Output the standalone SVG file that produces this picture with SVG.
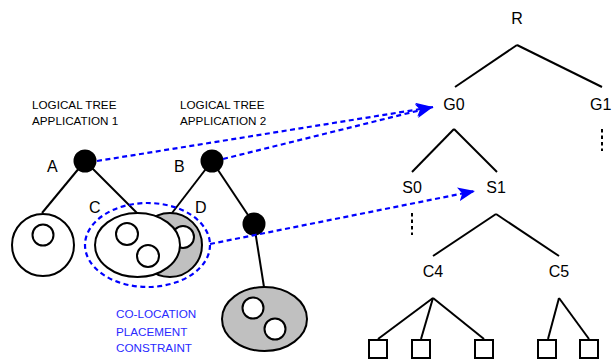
<svg xmlns="http://www.w3.org/2000/svg" width="612" height="363" viewBox="0 0 612 363">
<style>
.t{font-family:"Liberation Sans",Arial,sans-serif;fill:#000}
.s{font-size:11.7px}
.l{font-size:16px}
.b{font-size:11.7px;fill:#2a2aff}
.ln{stroke:#000;stroke-width:2;fill:none}
.o{stroke:#000;stroke-width:2;fill:#fff}
.g{stroke:#000;stroke-width:2;fill:#c0c0c0}
.k{fill:#000}
.bd{stroke:#0000ff;stroke-width:2.2;stroke-dasharray:5 3.5;fill:none}
.dot{stroke:#000;stroke-width:2;stroke-dasharray:3.5 3}
.sq{stroke:#000;stroke-width:2;fill:#fff}
</style>
<defs>
<marker id="ah" markerUnits="userSpaceOnUse" markerWidth="18" markerHeight="14" refX="17" refY="7" orient="auto">
<path d="M0,0 L17,7 L0,14 L4,7 Z" fill="#0000ff"/>
</marker>
</defs>
<g id="connectors">
<line class="ln" x1="85" y1="161" x2="42" y2="213"/>
<line class="ln" x1="85" y1="161" x2="138" y2="214"/>
<line class="ln" x1="212" y1="161" x2="172" y2="213"/>
<line class="ln" x1="212" y1="161" x2="254" y2="224"/>
<line class="ln" x1="254" y1="224" x2="264" y2="287"/>
<line class="ln" x1="517" y1="45" x2="455" y2="87"/>
<line class="ln" x1="517" y1="45" x2="602" y2="87"/>
<line class="ln" x1="454" y1="129" x2="412" y2="172"/>
<line class="ln" x1="454" y1="129" x2="497" y2="172"/>
<line class="ln" x1="496" y1="214" x2="433" y2="256"/>
<line class="ln" x1="496" y1="214" x2="559" y2="256"/>
<line class="ln" x1="433" y1="298" x2="378" y2="339"/>
<line class="ln" x1="433" y1="298" x2="421" y2="339"/>
<line class="ln" x1="433" y1="298" x2="484" y2="339"/>
<line class="ln" x1="559" y1="298" x2="548" y2="339"/>
<line class="ln" x1="559" y1="298" x2="589" y2="339"/>
<line class="dot" x1="602" y1="129" x2="602" y2="151"/>
<line class="dot" x1="412" y1="213" x2="412" y2="235"/>
</g>
<g id="node-left">
<circle class="o" cx="43" cy="245" r="31"/>
<circle class="o" cx="43" cy="235" r="10.5"/>
</g>
<g id="node-D">
<circle class="g" cx="170" cy="245" r="32"/>
<circle class="o" cx="183" cy="237" r="11"/>
<text class="t l" x="195" y="213">D</text>
</g>
<g id="node-C">
<ellipse class="o" cx="137.5" cy="245" rx="42.5" ry="32"/>
<circle class="o" cx="127" cy="234" r="11"/>
<circle class="o" cx="148" cy="256" r="11"/>
<text class="t l" x="89" y="213">C</text>
</g>
<g id="node-E">
<ellipse class="g" cx="264.5" cy="319" rx="42.5" ry="32"/>
<circle class="o" cx="253" cy="308" r="10.5"/>
<circle class="o" cx="275" cy="329" r="10.5"/>
</g>
<g id="node-A">
<circle class="k" cx="85" cy="161" r="11.5"/>
<text class="t l" x="47" y="172">A</text>
</g>
<g id="node-B">
<circle class="k" cx="212" cy="161" r="11.5"/>
<text class="t l" x="174" y="172">B</text>
</g>
<g id="node-B2">
<circle class="k" cx="254" cy="224" r="11.5"/>
</g>
<g id="label-app1">
<text class="t s" x="32" y="109">LOGICAL TREE</text>
<text class="t s" x="32" y="125">APPLICATION 1</text>
</g>
<g id="label-app2">
<text class="t s" x="180" y="109">LOGICAL TREE</text>
<text class="t s" x="180" y="125">APPLICATION 2</text>
</g>
<g id="constraint">
<ellipse class="bd" cx="147.5" cy="245" rx="62.5" ry="42"/>
<text class="t b" x="116" y="318">CO-LOCATION</text>
<text class="t b" x="116" y="336">PLACEMENT</text>
<text class="t b" x="116" y="352">CONSTRAINT</text>
</g>
<g id="mappings">
<line class="bd" x1="97" y1="161" x2="433" y2="107" marker-end="url(#ah)"/>
<line class="bd" x1="223" y1="159" x2="433" y2="107" marker-end="url(#ah)"/>
<line class="bd" x1="210" y1="244" x2="475" y2="191" marker-end="url(#ah)"/>
</g>
<g id="node-R"><text class="t l" x="517" y="24" text-anchor="middle">R</text></g>
<g id="node-G0"><text class="t l" x="454" y="110" text-anchor="middle">G0</text></g>
<g id="node-G1"><text class="t l" x="590" y="110">G1</text></g>
<g id="node-S0"><text class="t l" x="412" y="193" text-anchor="middle">S0</text></g>
<g id="node-S1"><text class="t l" x="496" y="193" text-anchor="middle">S1</text></g>
<g id="node-C4"><text class="t l" x="433" y="277" text-anchor="middle">C4</text></g>
<g id="node-C5"><text class="t l" x="559" y="277" text-anchor="middle">C5</text></g>
<g id="servers">
<rect class="sq" x="369" y="340" width="18" height="18"/>
<rect class="sq" x="412" y="340" width="18" height="18"/>
<rect class="sq" x="475" y="340" width="18" height="18"/>
<rect class="sq" x="538" y="340" width="18" height="18"/>
<rect class="sq" x="580" y="340" width="18" height="18"/>
</g>
</svg>
